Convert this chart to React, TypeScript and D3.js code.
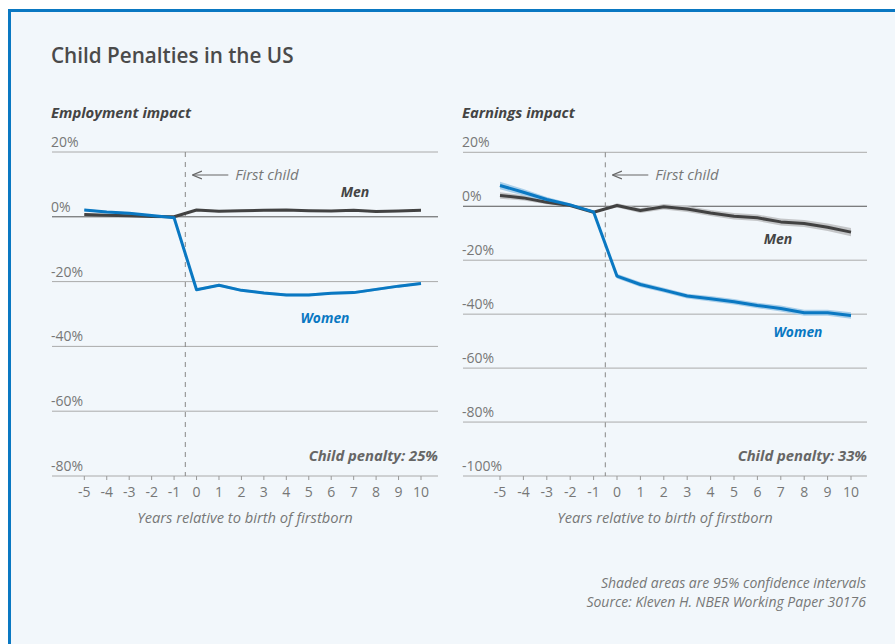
// Child Penalties in the US - two-panel event-study line chart
import React, { useEffect, useRef } from 'react';
import * as d3 from 'd3';

const years = [-5, -4, -3, -2, -1, 0, 1, 2, 3, 4, 5, 6, 7, 8, 9, 10];
const yearTicks = years;

// Employment impact (%)
const empWomen = [2.1, 1.5, 1.1, 0.4, -0.3, -22.5, -21.1, -22.7, -23.5, -24.1, -24.1, -23.6, -23.4, -22.4, -21.4, -20.6];
const empMen = [0.7, 0.5, 0.3, 0.1, 0, 2.1, 1.7, 1.9, 2.0, 2.1, 1.9, 1.8, 2.0, 1.6, 1.8, 2.0];
const empWomenCI = [0.4, 0.3, 0.3, 0.2, 0, 0.4, 0.4, 0.4, 0.4, 0.4, 0.4, 0.4, 0.4, 0.4, 0.4, 0.4];
const empMenCI = [0.3, 0.3, 0.2, 0.2, 0, 0.3, 0.3, 0.3, 0.3, 0.3, 0.3, 0.3, 0.3, 0.3, 0.3, 0.3];
const empTicks = [20, 0, -20, -40, -60, -80];

// Earnings impact (%)
const earnWomen = [7.7, 5.2, 2.5, 0.5, -2.1, -25.9, -29.0, -31.1, -33.3, -34.3, -35.4, -36.8, -37.9, -39.5, -39.5, -40.5];
const earnMen = [4.0, 3.1, 1.5, 0.3, -2.2, 0.3, -1.6, -0.2, -1.0, -2.5, -3.7, -4.3, -5.8, -6.4, -7.8, -9.6];
const earnWomenCI = [1.4, 1.2, 0.9, 0.6, 0, 0.9, 0.9, 0.9, 0.9, 1.0, 1.0, 1.0, 1.1, 1.1, 1.1, 1.2];
const earnMenCI = [1.2, 1.0, 0.8, 0.5, 0, 0.8, 0.9, 1.0, 1.1, 1.1, 1.2, 1.2, 1.3, 1.3, 1.4, 1.5];
const earnTicks = [20, 0, -20, -40, -60, -80, -100];

const BLUE = '#0a78c2';
const DARK = '#424242';
const GREY = '#777';
const FONT = '"Open Sans", Lato, sans-serif';

interface PanelCfg {
  title: string;
  women: number[];
  men: number[];
  womenCI: number[];
  menCI: number[];
  ticks: number[];
  yDomain: [number, number];
  yRange: [number, number];
  gridX: [number, number];
  xRange: [number, number];
  menLabel: [number, number];
  womenLabel: [number, number];
  penalty: string;
}

const App: React.FC = () => {
  const svgRef = useRef<SVGSVGElement>(null);

  useEffect(() => {
    if (!svgRef.current) return;
    document.body.style.margin = '0';
    const svg = d3.select(svgRef.current);
    svg.selectAll('*').remove();

    // frame
    svg.append('rect').attr('x', 0).attr('y', 0).attr('width', 895).attr('height', 644).attr('fill', '#fff');
    svg.append('rect').attr('x', 8).attr('y', 9).attr('width', 900).attr('height', 650).attr('fill', '#0a78c2');
    svg.append('rect').attr('x', 11).attr('y', 12).attr('width', 900).attr('height', 650).attr('fill', '#f2f7fb');

    svg.append('text')
      .attr('x', 51).attr('y', 63)
      .attr('font-family', FONT).attr('font-size', 20.7).attr('font-weight', 600)
      .attr('fill', '#4a4a4a')
      .text('Child Penalties in the US');

    const defs = svg.append('defs');
    defs.append('marker')
      .attr('id', 'arrow')
      .attr('viewBox', '0 0 10 10')
      .attr('refX', 1).attr('refY', 5)
      .attr('markerWidth', 8).attr('markerHeight', 8)
      .attr('orient', 'auto')
      .append('path')
      .attr('d', 'M10,1 L0,5 L10,9')
      .attr('fill', 'none')
      .attr('stroke', '#666')
      .attr('stroke-width', 1.4);

    const panels: PanelCfg[] = [
      {
        title: 'Employment impact', women: empWomen, men: empMen,
        womenCI: empWomenCI, menCI: empMenCI, ticks: empTicks,
        yDomain: [-80, 20], yRange: [476, 152], gridX: [52, 438], xRange: [84.3, 421],
        menLabel: [355, 197], womenLabel: [325, 323], penalty: 'Child penalty: 25%'
      },
      {
        title: 'Earnings impact', women: earnWomen, men: earnMen,
        womenCI: earnWomenCI, menCI: earnMenCI, ticks: earnTicks,
        yDomain: [-100, 20], yRange: [476, 152.3], gridX: [463, 867], xRange: [500, 851],
        menLabel: [778, 244], womenLabel: [798, 337], penalty: 'Child penalty: 33%'
      }
    ];

    panels.forEach(p => {
      const x = d3.scaleLinear().domain([-5, 10]).range(p.xRange);
      const y = d3.scaleLinear().domain(p.yDomain).range(p.yRange);
      const g = svg.append('g').attr('font-family', FONT);
      const [gx0, gx1] = p.gridX;

      g.append('text')
        .attr('x', gx0 - 1).attr('y', 118)
        .attr('font-size', 14.8).attr('font-weight', 700).attr('font-style', 'italic')
        .attr('fill', '#444')
        .text(p.title);

      // gridlines + labels
      p.ticks.forEach(t => {
        const isZero = t === 0;
        g.append('line')
          .attr('x1', gx0).attr('x2', gx1)
          .attr('y1', y(t)).attr('y2', y(t))
          .attr('stroke', isZero ? '#555' : '#aaa')
          .attr('stroke-width', 1);
        g.append('text')
          .attr('x', gx0 - 1).attr('y', y(t) - 5)
          .attr('font-size', 14).attr('fill', GREY)
          .text(`${t}%`);
      });

      // x ticks
      const bottom = p.yRange[0];
      yearTicks.forEach(t => {
        g.append('line')
          .attr('x1', x(t)).attr('x2', x(t))
          .attr('y1', bottom).attr('y2', bottom + 4)
          .attr('stroke', '#999');
        g.append('text')
          .attr('x', x(t)).attr('y', bottom + 21)
          .attr('text-anchor', 'middle')
          .attr('font-size', 14).attr('fill', GREY)
          .text(t);
      });

      g.append('text')
        .attr('x', (gx0 + gx1) / 2).attr('y', 523)
        .attr('text-anchor', 'middle')
        .attr('font-size', 14.7).attr('font-style', 'italic').attr('fill', GREY)
        .text('Years relative to birth of firstborn');

      // first child marker
      const xc = x(-0.5);
      g.append('line')
        .attr('x1', xc).attr('x2', xc)
        .attr('y1', p.yRange[1]).attr('y2', bottom)
        .attr('stroke', '#888').attr('stroke-width', 1)
        .attr('stroke-dasharray', '5,5');
      g.append('line')
        .attr('x1', xc + 8).attr('x2', xc + 43)
        .attr('y1', 175).attr('y2', 175)
        .attr('stroke', '#666').attr('stroke-width', 1.2)
        .attr('marker-start', 'url(#arrow)');
      g.append('text')
        .attr('x', xc + 50).attr('y', 180)
        .attr('font-size', 14.9).attr('font-style', 'italic').attr('fill', GREY)
        .text('First child');

      const band = (vals: number[], ci: number[], color: string) => {
        const a = d3.area<number>()
          .x((_, i) => x(years[i]))
          .y0((d, i) => y(d - ci[i]))
          .y1((d, i) => y(d + ci[i]));
        g.append('path').attr('d', a(vals) as string).attr('fill', color);
      };

      const line = d3.line<number>()
        .x((_, i) => x(years[i]))
        .y(d => y(d));

      band(p.men, p.menCI, '#c4c6c8');
      band(p.women, p.womenCI, '#a9cfea');

      g.append('path').attr('d', line(p.men) as string)
        .attr('fill', 'none').attr('stroke', DARK).attr('stroke-width', 3)
        .attr('stroke-linejoin', 'round');
      g.append('path').attr('d', line(p.women) as string)
        .attr('fill', 'none').attr('stroke', BLUE).attr('stroke-width', 3)
        .attr('stroke-linejoin', 'round');

      g.append('text')
        .attr('x', p.menLabel[0]).attr('y', p.menLabel[1])
        .attr('text-anchor', 'middle')
        .attr('font-size', 14).attr('font-weight', 700).attr('font-style', 'italic')
        .attr('fill', '#444').text('Men');
      g.append('text')
        .attr('x', p.womenLabel[0]).attr('y', p.womenLabel[1])
        .attr('text-anchor', 'middle')
        .attr('font-size', 13.8).attr('font-weight', 700).attr('font-style', 'italic')
        .attr('fill', BLUE).text('Women');

      g.append('text')
        .attr('x', gx1).attr('y', 461)
        .attr('text-anchor', 'end')
        .attr('font-size', 14.8).attr('font-weight', 700).attr('font-style', 'italic')
        .attr('fill', '#666').text(p.penalty);
    });

    const foot = svg.append('g').attr('font-family', FONT)
      .attr('font-size', 14).attr('font-style', 'italic').attr('fill', GREY)
      .attr('text-anchor', 'end');
    foot.append('text').attr('x', 866).attr('y', 588).text('Shaded areas are 95% confidence intervals');
    foot.append('text').attr('x', 866).attr('y', 607).text('Source: Kleven H. NBER Working Paper 30176');
  }, []);

  return <svg ref={svgRef} width={895} height={644} style={{ display: 'block' }} />;
};

export default App;
